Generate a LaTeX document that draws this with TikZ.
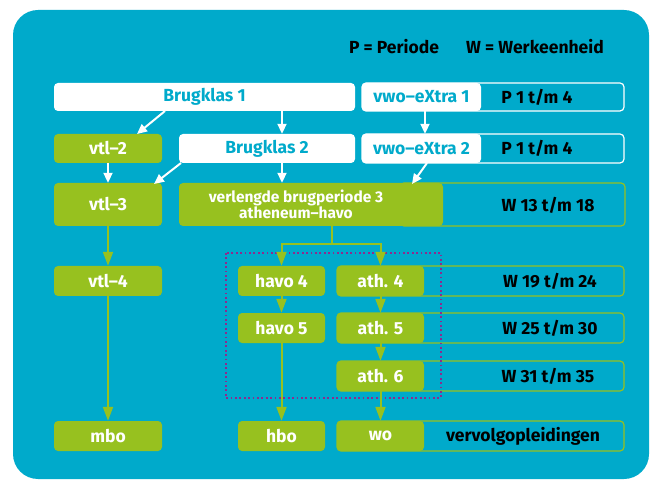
\documentclass[tikz,border=0pt]{standalone}
\usepackage{fontspec}
\setmainfont{Fira Sans}
\usetikzlibrary{arrows.meta,calc}
\definecolor{myteal}{HTML}{00AACB}
\definecolor{mygreen}{HTML}{97C11F}
\definecolor{mypurple}{HTML}{8E2A8E}
\begin{document}
\begin{tikzpicture}[x=1pt,y=-1pt,
  lbl/.style={font=\fontsize{17.5}{20}\selectfont\bfseries},
  boxbase/.style={rounded corners=4, inner sep=0, lbl},
  gbox/.style={boxbase, fill=mygreen, text=white},
  wbox/.style={boxbase, fill=white, text=myteal},
  wframe/.style={draw=white, line width=1.2, rounded corners=4, inner sep=0},
  gframe/.style={draw=mygreen, line width=1.2, rounded corners=4, inner sep=0},
  side/.style={lbl, text=black, inner sep=0},
  warrow/.style={draw=white, line width=2, -{Triangle[length=10,width=9]}},
  garrow/.style={draw=mygreen, line width=2, -{Triangle[length=14,width=10]}},
  gline/.style={draw=mygreen, line width=2}
]
\useasboundingbox (0,0) rectangle (651,481);
\fill[myteal, rounded corners=25] (13,10) rectangle (649,479);

% legend
\node[side] (legP) at (394,47) {P = Periode};
\node[side] (legW) at (535,47) {W = Werkeenheid};

% right frames
\node[wframe, minimum width=262, minimum height=28] (f1) at (493,97) {};
\node[wframe, minimum width=262, minimum height=29] (f2) at (493,148.5) {};
\node[gframe, minimum width=225, minimum height=43] (f3) at (512.5,204.5) {};
\node[gframe, minimum width=287, minimum height=30] (f4) at (480.5,281) {};
\node[gframe, minimum width=287, minimum height=30] (f5) at (480.5,328) {};
\node[gframe, minimum width=287, minimum height=30] (f6) at (480.5,376) {};
\node[gframe, minimum width=287, minimum height=30] (f7) at (480.5,436) {};

\node[side] (t1) at (537,97) {P 1 t/m 4};
\node[side] (t2) at (537,148.5) {P 1 t/m 4};
\node[side] (t3) at (548,205) {W 13 t/m 18};
\node[side] (t4) at (550,281) {W 19 t/m 24};
\node[side] (t5) at (550,328) {W 25 t/m 30};
\node[side] (t6) at (548,376) {W 31 t/m 35};
\node[side] (t7) at (523,436) {vervolgopleidingen};

% white boxes
\node[wbox, minimum width=301, minimum height=28] (b1) at (204.5,97) {Brugklas 1};
\node[wbox, minimum width=176, minimum height=29] (b2) at (267,148.5) {Brugklas 2};
\node[wbox, minimum width=119, minimum height=28] (e1) at (421.5,97) {vwo–eXtra 1};
\node[wbox, minimum width=119, minimum height=29] (e2) at (421.5,148.5) {vwo–eXtra 2};

% green boxes
\node[gbox, minimum width=108, minimum height=29] (vtl2) at (108,148.5) {vtl–2};
\node[gbox, minimum width=108, minimum height=43] (vtl3) at (108,204.5) {vtl–3};
\node[gbox, minimum width=108, minimum height=30] (vtl4) at (108,281) {vtl–4};
\node[gbox, minimum width=108, minimum height=30] (mbo) at (108,436) {mbo};
\node[gbox, minimum width=264, minimum height=43] (verl) at (311,204.5) {};
\node[lbl, text=white, font=\fontsize{15.5}{15.5}\selectfont\bfseries, align=center, inner sep=0] (verlt) at (296,204.5) {verlengde brugperiode 3\\atheneum–havo};
\node[gbox, minimum width=87, minimum height=30] (h4) at (281.5,281) {havo 4};
\node[gbox, minimum width=87, minimum height=30] (h5) at (281.5,328) {havo 5};
\node[gbox, minimum width=87, minimum height=30] (hbo) at (281.5,436) {hbo};
\node[gbox, minimum width=87, minimum height=30] (a4) at (380.5,281) {ath. 4};
\node[gbox, minimum width=87, minimum height=30] (a5) at (380.5,328) {ath. 5};
\node[gbox, minimum width=87, minimum height=30] (a6) at (380.5,376) {ath. 6};
\node[gbox, minimum width=87, minimum height=30] (wo) at (380.5,436) {wo};

% dotted frame
\draw[mypurple, line width=1.8, dash pattern=on 1.8 off 2.6] (226,253) rectangle (441,398);

% helper columns
\coordinate (cx1) at (282,0);
\coordinate (cx2) at (425,0);
\coordinate (cx3) at (332,0);
\coordinate (split) at (332,244);

% white arrows
\draw[warrow] (165,111) -- (137,134);
\draw[warrow] (cx1 |- b1.south) -- (cx1 |- b2.north);
\draw[warrow] (cx2 |- e1.south) -- (cx2 |- e2.north);
\draw[warrow] (vtl2.south) -- (vtl3.north);
\draw[warrow] (181,163) -- (154,184);
\draw[warrow] (cx1 |- b2.south) -- (cx1 |- verl.north);
\draw[warrow] (427,163) -- (412,184);

% green arrows
\draw[gline] (cx3 |- verl.south) -- (split);
\draw[garrow] (split) -| (h4.north);
\draw[garrow] (split) -| (a4.north);
\draw[garrow] (vtl3.south) -- (vtl4.north);
\draw[garrow] (vtl4.south) -- (mbo.north);
\draw[garrow] (h4.south) -- (h5.north);
\draw[garrow] (h5.south) -- (hbo.north);
\draw[garrow] (a4.south) -- (a5.north);
\draw[garrow] (a5.south) -- (a6.north);
\draw[garrow] (a6.south) -- (wo.north);
\end{tikzpicture}
\end{document}
